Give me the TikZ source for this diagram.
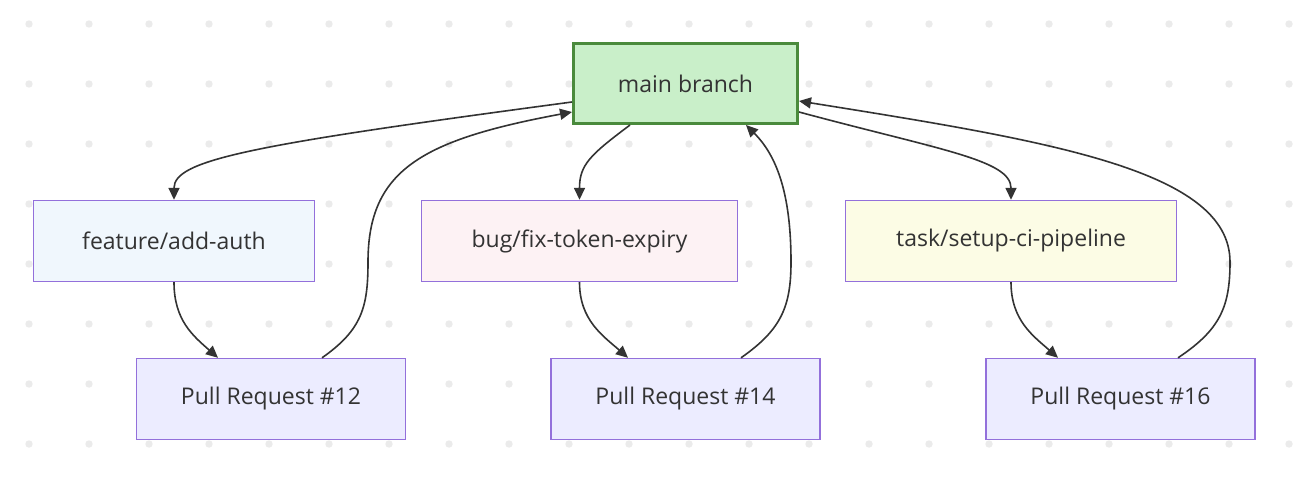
\documentclass[tikz,border=0pt]{standalone}
\usepackage{fontspec}
\setmainfont{Open Sans}
\usetikzlibrary{arrows.meta}
\definecolor{ink}      {HTML}{333333}
\definecolor{dotgray}  {HTML}{EBEBEB}
\definecolor{mainline} {HTML}{4A8A3C}
\definecolor{mainbg}   {HTML}{C9EFC9}
\definecolor{prline}   {HTML}{9370DB}
\definecolor{featbg}   {HTML}{F0F7FD}
\definecolor{bugbg}    {HTML}{FDF2F4}
\definecolor{taskbg}   {HTML}{FCFCE5}
\definecolor{prbg}     {HTML}{ECECFF}
\tikzset{
  box/.style    ={draw=prline, fill=prbg, line width=1.4pt,
                  minimum height=81pt, inner sep=0pt, text=ink,
                  font=\fontsize{23}{27}\selectfont},
  mbox/.style   ={box, draw=mainline, fill=mainbg, line width=3pt,
                  minimum width=224pt, minimum height=80pt},
  fbox/.style   ={box, fill=featbg, minimum width=281pt},
  bbox/.style   ={box, fill=bugbg, minimum width=316pt},
  tbox/.style   ={box, fill=taskbg, minimum width=331pt},
  prbox/.style  ={box, minimum width=269pt},
  arr/.style    ={-{Triangle[length=12pt,width=11pt]}, line width=1.6pt,
                  draw=ink},
}

\begin{document}
\begin{tikzpicture}[x=1pt,y=-1pt]
  \fill[white] (0,0) rectangle (1300,490);
  \useasboundingbox (0,0) rectangle (1300,490);
  \foreach \gx in {29,89,...,1289}
    \foreach \gy in {24,84,...,444}
      \fill[dotgray] (\gx,\gy) circle (3.7);

  \node[mbox] (main) at (685.5,83.5) {main branch};
  \node[fbox] (feat) at (174,241) {feature/add-auth};
  \node[bbox] (bug) at (579.5,241) {bug/fix-token-expiry};
  \node[tbox] (task) at (1011,241) {task/setup-ci-pipeline};
  \node[prbox] (pr12) at (271,399) {Pull Request \#12};
  \node[prbox] (pr14) at (685.5,399) {Pull Request \#14};
  \node[prbox] (pr16) at (1120.5,399) {Pull Request \#16};

  \draw[arr] ([yshift=-18.5pt]main.west) .. controls +(-322,43) and +(0,-40) .. (feat.north);
  \draw[arr] ([xshift=-55.5pt]main.south) .. controls +(-40,30) and +(0,-35) .. (bug.north);
  \draw[arr] ([yshift=-28.5pt]main.east) .. controls +(141,38) and +(0,-40) .. (task.north);

  \draw[arr] (feat.south) .. controls +(0,38) and +(-25,-22) .. ([xshift=-53pt]pr12.north);
  \draw[arr] (bug.south) .. controls +(0,38) and +(-25,-22) .. ([xshift=-57.5pt]pr14.north);
  \draw[arr] (task.south) .. controls +(0,38) and +(-25,-22) .. ([xshift=-62.5pt]pr16.north);

  \draw[arr] ([xshift=51pt]pr12.north) .. controls +(40,-28) and +(0,45) .. (368,262)
    .. controls +(0,-92) and +(-150,28) .. ([yshift=-28.5pt]main.west);
  \draw[arr] ([xshift=55.5pt]pr14.north) .. controls +(40,-28) and +(0,45) .. (791,262)
    .. controls +(0,-70) and +(30,30) .. ([xshift=60.5pt]main.south);
  \draw[arr] ([xshift=57.5pt]pr16.north) .. controls +(42,-28) and +(0,45) .. (1230,262)
    .. controls +(0,-92) and +(250,40) .. ([yshift=-17.5pt]main.east);
\end{tikzpicture}
\end{document}
